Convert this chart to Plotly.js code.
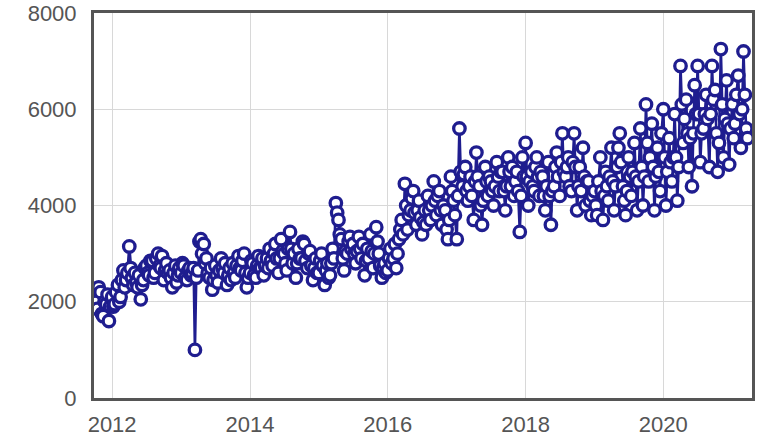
<!DOCTYPE html>
<html>
<head>
<meta charset="utf-8">
<script src="https://cdn.plot.ly/plotly-3.0.1.min.js"></script>
<style>
  html, body { margin: 0; padding: 0; background: #fff; }
  #chart { width: 761px; height: 440px; }
</style>
</head>
<body>
<div id="chart"></div>
<script>
// Weekly-ish values (days 1, 8, 15, 22 of each month), read/
const y2011 = [2250, 2000, 1850, 2300,  2200, 1750, 1700, 2000,  1950, 2150, 1600, 1900]; // Oct–Dec 2011
const y2012 = [2100, 1900, 1950, 2200,  2350, 2000, 2100, 2450,  2650, 2300, 2450, 2600,
               3150, 2700, 2500, 2350,  2600, 2400, 2300, 2550,  2050, 2350, 2450, 2700,
               2750, 2600, 2550, 2850,  2850, 2500, 2600, 2900,  3000, 2750, 2700, 2950,
               2450, 2650, 2800, 2600,  2650, 2500, 2300, 2600,  2750, 2400, 2550, 2700];
const y2013 = [2600, 2800, 2750, 2500,  2450, 2650, 2700, 2550,  2600, 2700, 1000, 2500,
               2650, 3250, 3300, 3000,  3200, 2800, 2900, 2600,  2500, 2700, 2250, 2450,
               2750, 2550, 2400, 2650,  2900, 2700, 2600, 2800,  2350, 2550, 2700, 2450,
               2800, 2600, 2500, 2750,  2950, 2700, 2650, 2850,  3000, 2600, 2300, 2500];
const y2014 = [2600, 2850, 2800, 2550,  2500, 2750, 2950, 2700,  2700, 2900, 2550, 2750,
               2900, 2700, 3100, 2850,  2750, 3000, 3200, 2900,  2600, 2900, 3300, 3050,
               3000, 2800, 2650, 3100,  3450, 3100, 2800, 3000,  2500, 2800, 3100, 2900,
               2900, 3250, 3200, 2850,  2700, 3000, 3050, 2750,  2450, 2700, 2900, 2600];
const y2015 = [2600, 2850, 3000, 2750,  2350, 2650, 2800, 2500,  2550, 2800, 3100, 2900,
               4050, 3850, 3700, 3400,  3300, 2900, 2650, 3050,  3000, 3250, 3350, 3100,
               3200, 3000, 2800, 3050,  3350, 3100, 2900, 3200,  2550, 2850, 3100, 2900,
               3400, 3050, 2700, 3000,  3550, 3250, 3000, 2750,  2500, 2700, 2800, 2600];
const y2016 = [2650, 2900, 3100, 2800,  2900, 3200, 2700, 3000,  3300, 3500, 3700, 3400,
               4450, 4000, 3500, 3800,  3900, 4150, 4300, 3850,  3600, 3900, 4100, 3750,
               3400, 3650, 3900, 3600,  4200, 3900, 3700, 4000,  4500, 4100, 3800, 4200,
               4300, 3900, 3600, 4000,  3900, 3500, 3300, 3700,  4600, 4300, 4100, 3800];
const y2017 = [3300, 4200, 5600, 4700,  4400, 4650, 4800, 4300,  4100, 4400, 4600, 4200,
               3700, 4500, 5100, 4600,  4400, 4000, 3600, 4100,  4800, 4500, 4200, 4600,
               4500, 4300, 4000, 4400,  4900, 4600, 4300, 4700,  4700, 4300, 3900, 4400,
               5000, 4700, 4400, 4800,  4200, 4500, 4700, 4300,  3450, 4200, 5000, 4600];
const y2018 = [5300, 4600, 4000, 4500,  4700, 4400, 4300, 4800,  5000, 4600, 4200, 4700,
               4600, 4200, 3900, 4400,  4900, 4200, 3600, 4300,  4400, 4800, 5100, 4600,
               4200, 4900, 5500, 4700,  4600, 4800, 5000, 4400,  4300, 4900, 5500, 4800,
               3900, 4400, 4800, 4300,  5200, 4600, 4000, 4500,  4500, 4100, 3800, 4200];
const y2019 = [4300, 4000, 3800, 4500,  5000, 4300, 3700, 4200,  4700, 4400, 4100, 4600,
               5200, 4500, 3900, 4400,  4800, 5200, 5500, 4900,  4400, 4100, 3800, 4300,
               5000, 4600, 4200, 4700,  5300, 4600, 3900, 4500,  5600, 4800, 4000, 4600,
               6100, 5300, 4500, 5000,  5700, 4800, 3900, 4600,  5200, 4700, 4300, 5500];
const y2020 = [6000, 5000, 4000, 4700,  5400, 4900, 4500, 5000,  5900, 5000, 4100, 4800,
               6900, 6100, 5300, 5800,  6200, 5500, 4800, 5400,  4400, 5500, 6500, 5900,
               6900, 5900, 4900, 5500,  5600, 5900, 6300, 5800,  4800, 5900, 6900, 6200,
               6400, 5500, 4700, 5300,  7250, 6100, 5000, 5800,  6600, 5700, 4850, 5600];
const y2021 = [6100, 5400, 5700, 6300,  6700, 5900, 5200, 6000,  7200, 6300, 5600, 5400]; // Jan–Mar 2021

const seriesByYear = [
  [2011, 10, y2011], [2012, 1, y2012], [2013, 1, y2013], [2014, 1, y2014],
  [2015, 1, y2015], [2016, 1, y2016], [2017, 1, y2017], [2018, 1, y2018],
  [2019, 1, y2019], [2020, 1, y2020], [2021, 1, y2021]
];
const days = ['01', '08', '15', '22'];

const xs = [], ys = [];
seriesByYear.forEach(([yr, m0, vals]) => {
  vals.forEach((v, i) => {
    const m = m0 + Math.floor(i / 4);
    xs.push(yr + '-' + String(m).padStart(2, '0') + '-' + days[i % 4]);
    ys.push(v);
  });
});

const xTickVals = ['2012-01-01', '2014-01-01', '2016-01-01', '2018-01-01', '2020-01-01'];
const xTickText = ['2012', '2014', '2016', '2018', '2020'];
const yTickVals = [0, 2000, 4000, 6000, 8000];

const navy = '#1f1d8f';

const trace = {
  x: xs, y: ys,
  type: 'scatter',
  mode: 'lines+markers',
  line: { color: navy, width: 2.6 },
  marker: { symbol: 'circle', size: 11.5, color: '#ffffff', line: { color: navy, width: 3.3 } },
  hoverinfo: 'x+y'
};

const layout = {
  width: 761, height: 440,
  margin: { l: 94, r: 9, t: 13, b: 42 },
  paper_bgcolor: '#ffffff',
  plot_bgcolor: '#ffffff',
  showlegend: false,
  font: { family: '"Liberation Sans", Arial, sans-serif', size: 22, color: '#555555' },
  xaxis: {
    type: 'date',
    range: ['2011-09-27', '2021-04-15'],
    tickvals: xTickVals, ticktext: xTickText,
    showgrid: true, gridcolor: '#d8d8d8', gridwidth: 1,
    showline: true, linecolor: '#555555', linewidth: 3, mirror: true,
    ticks: '', zeroline: false, ticklabelstandoff: 5,
    tickfont: { size: 22, color: '#555555' }
  },
  yaxis: {
    range: [0, 8000],
    tickvals: yTickVals,
    showgrid: true, gridcolor: '#d8d8d8', gridwidth: 1,
    showline: true, linecolor: '#555555', linewidth: 3, mirror: true,
    ticks: '', zeroline: false, ticklabelstandoff: 10,
    tickfont: { size: 22, color: '#555555' }
  }
};

Plotly.newPlot('chart', [trace], layout, { displayModeBar: false, staticPlot: true });
</script>
</body>
</html>
